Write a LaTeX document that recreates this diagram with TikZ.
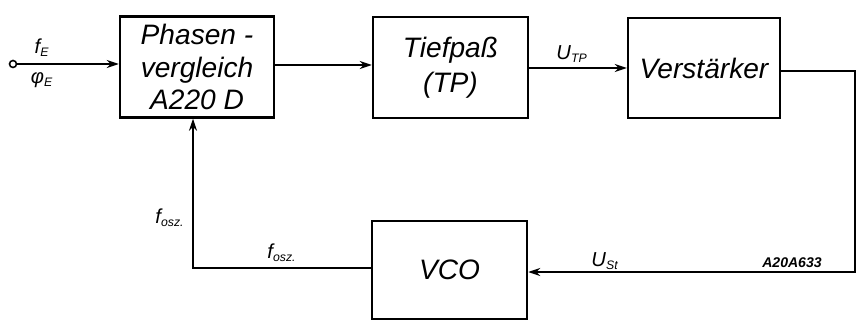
\documentclass[tikz,border=0pt]{standalone}
\usepackage{fontspec}
\setmainfont{Liberation Sans}
\usetikzlibrary{arrows.meta}
\newcommand{\sub}[1]{\textsubscript{\scriptsize #1}}
\begin{document}
\begin{tikzpicture}[x=0.02cm,y=-0.02cm,
  blk/.style={draw,line width=1.4pt,rectangle,inner sep=0pt,align=center,
    font=\fontsize{16}{20}\selectfont\itshape},
  conn/.style={line width=1.2pt},
  arr/.style={conn,-{Stealth[length=2.4mm,width=1.6mm]}},
  lbl/.style={font=\fontsize{11.5}{13}\selectfont\itshape,inner sep=1pt}]
\useasboundingbox (0,0) rectangle (857,320);
\node[blk,minimum width=3.08cm,minimum height=2.02cm,font=\fontsize{16}{18.5}\selectfont\itshape] (ph) at (197,67) {Phasen -\\vergleich\\A220 D};
\node[blk,minimum width=3.10cm,minimum height=2.02cm] (tp) at (450.5,67.5) {Tiefpaß\\(TP)};
\node[blk,minimum width=3.04cm,minimum height=2.00cm] (vs) at (704,68) {Verstärker};
\node[blk,minimum width=3.10cm,minimum height=1.96cm] (vco) at (449.5,270) {VCO};
\node[draw,circle,line width=0.9pt,minimum size=0.14cm,inner sep=0pt] (in) at (13,64) {};
\coordinate (rc) at (855,71);
\coordinate (rb) at (855,272);
\coordinate (lc) at (193,268);
\draw[arr] (in) -- (in -| ph.west);
\draw[arr] (ph.east |- 0,65) -- (tp.west |- 0,65);
\draw[arr] (tp.east |- 0,68) -- (vs.west |- 0,68);
\draw[arr] (vs.east |- rc) -- (rc) -- (rb) -- (rb -| vco.east);
\draw[arr] (vco.west |- lc) -- (lc) -- (lc |- ph.south);
\node[lbl] (fe) at (42,48) {f\sub{E}};
\node[lbl] (pe) at (42,80) {φ\sub{E}};
\node[lbl] (utp) at (572,54) {U\sub{TP}};
\node[lbl] (ust) at (605,261) {U\sub{St}};
\node[lbl,font=\fontsize{8}{10}\selectfont\bfseries\itshape] (num) at (792,263) {A20A633};
\node[lbl] (fo1) at (282,253) {f\sub{osz.}};
\node[lbl] (fo2) at (170,218) {f\sub{osz.}};
\end{tikzpicture}
\end{document}
